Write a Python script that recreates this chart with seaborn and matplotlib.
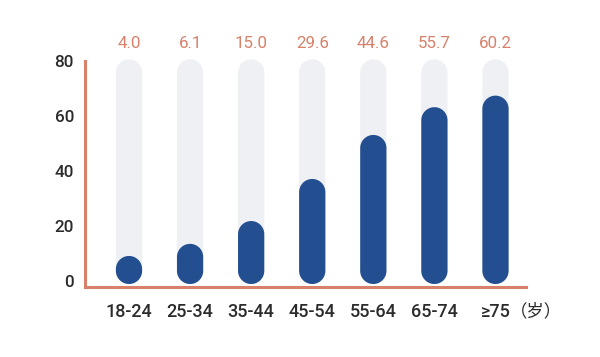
import numpy as np
import pandas as pd
import seaborn as sns
import matplotlib.pyplot as plt
from matplotlib.patches import Polygon

# data
ages = ['18-24', '25-34', '35-44', '45-54', '55-64', '65-74', '≥75']
rates = [4.0, 6.1, 15.0, 29.6, 44.6, 55.7, 60.2]          # printed labels
bar_tops = [9.1, 13.5, 21.8, 37.1, 53.1, 63.2, 67.4]      # drawn bar heights
track_top = 80.6
unit = '（岁）'

ORANGE = '#D7806A'
BLUE = '#234F91'
GREY = '#EEF0F4'
TEXT = '#2B2B2B'


def round_bars(ax, patches, base, color, aspect):
    # swap the square bars for pill shaped ones
    t = np.linspace(0, np.pi, 40)
    for p in list(patches):
        x, w, h = p.get_x(), p.get_width(), p.get_height()
        p.remove()
        rx = w / 2
        ry = rx * aspect
        xc = x + rx
        top = np.column_stack([xc + rx * np.cos(t), h - ry + ry * np.sin(t)])
        bot = np.column_stack([xc - rx * np.cos(t), base + ry - ry * np.sin(t)])
        pill = Polygon(np.vstack([top, bot]), closed=True, fc=color,
                       ec='none', clip_on=False, zorder=2)
        ax.add_patch(pill)


def main():
    sns.set_theme(style='white')
    plt.rcParams['font.family'] = ['Roboto', 'Noto Sans CJK SC', 'DejaVu Sans']

    df = pd.DataFrame({'age': ages, 'rate': rates, 'top': bar_tops})
    df['track'] = track_top

    fig = plt.figure(figsize=(6, 3.57), dpi=100)
    ax = fig.add_axes([0.1417, 0.196, 0.735, 0.644])

    sns.barplot(data=df, x='age', y='track', color=GREY, width=0.43,
                saturation=1, ax=ax)
    n_grey = len(ax.patches)
    sns.barplot(data=df, x='age', y='top', color=BLUE, width=0.43,
                saturation=1, ax=ax)

    ax.set_xlim(-0.72, 6.5)
    ax.set_ylim(-2.2, 81.4)
    fig.canvas.draw()
    bb = ax.get_window_extent()
    xpp = (6.5 + 0.72) / bb.width
    ypp = (81.4 + 2.2) / bb.height
    aspect = ypp / xpp

    grey = ax.patches[:n_grey]
    blue = ax.patches[n_grey:]
    round_bars(ax, grey, -1.1, GREY, aspect)
    round_bars(ax, blue, -1.1, BLUE, aspect)

    for i, r in enumerate(rates):
        ax.text(i, 86.5, f'{r:.1f}', ha='center', va='center', color=ORANGE,
                fontsize=12.2, clip_on=False)
    ax.text(6.24, -11.0, unit, ha='left', va='center', color=TEXT,
            fontsize=12.5, clip_on=False)

    ax.set_yticks([0, 20, 40, 60, 80])
    ax.set_xlabel('')
    ax.set_ylabel('')
    sns.despine(ax=ax, top=True, right=True)
    for s in ['left', 'bottom']:
        ax.spines[s].set_color(ORANGE)
        ax.spines[s].set_linewidth(2.2)
    ax.spines['left'].set_bounds(-2.2, 80)
    ax.tick_params(axis='y', direction='in', length=9.5, width=2.2,
                   color=ORANGE, labelsize=12.3, pad=8, labelcolor=TEXT)
    ax.tick_params(axis='x', length=0, labelsize=13, pad=11.5,
                   labelcolor=TEXT)
    for lab in ax.get_xticklabels() + ax.get_yticklabels():
        lab.set_fontweight('medium')
    ax.set_facecolor('white')

    fig.savefig('out.png', dpi=100, facecolor='white')


if __name__ == '__main__':
    main()
